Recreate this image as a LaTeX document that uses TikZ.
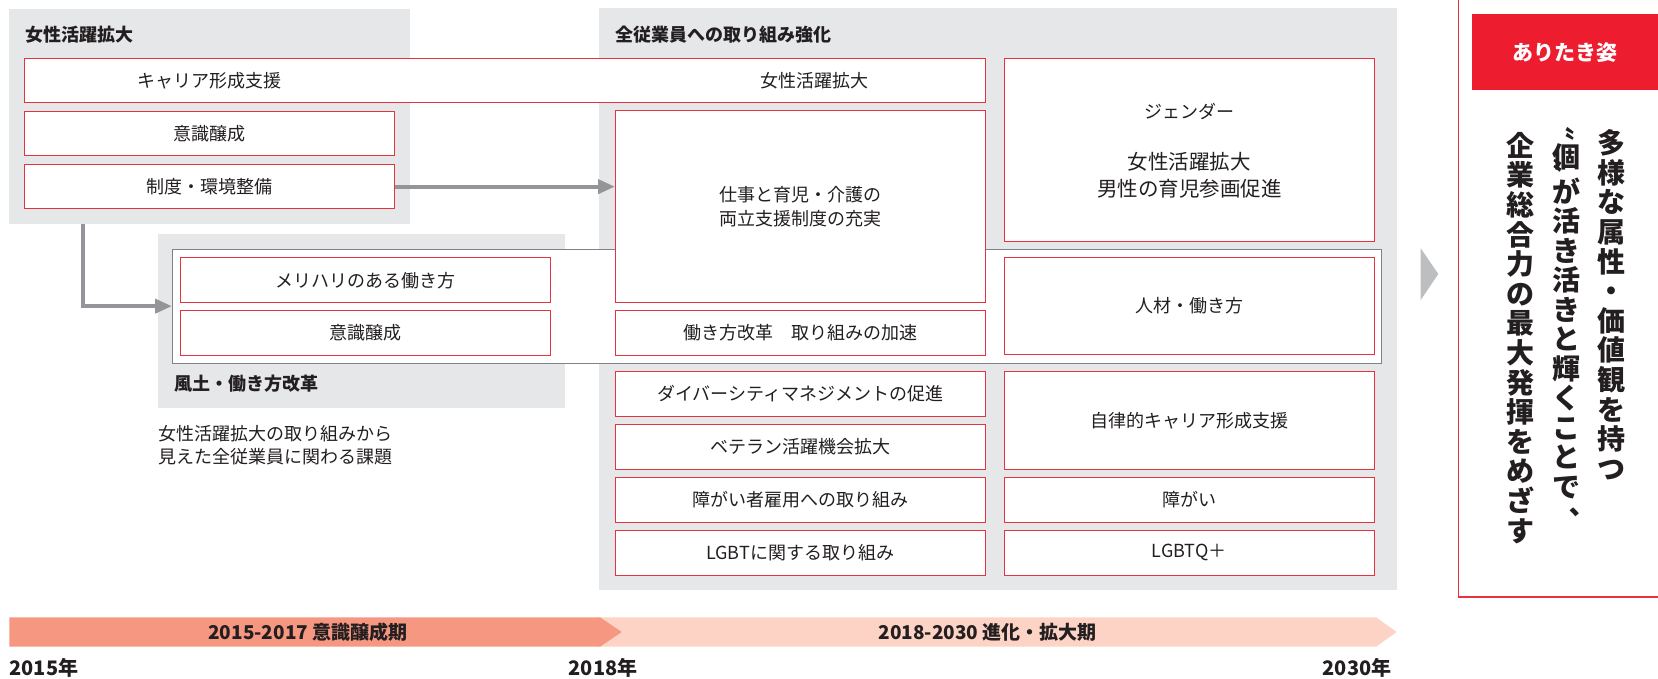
\documentclass[tikz,border=0pt]{standalone}
\usepackage{fontspec}
\setmainfont{Noto Sans CJK JP}
\newfontfamily\vertjp[RawFeature=+vert]{Noto Sans CJK JP}
\usetikzlibrary{arrows.meta}
\definecolor{txt}{RGB}{35,31,32}
\definecolor{boxred}{RGB}{232,50,64}
\definecolor{panelgray}{RGB}{230,231,232}
\definecolor{bordergray}{RGB}{128,130,133}
\definecolor{arrowgray}{RGB}{147,149,152}
\definecolor{trigray}{RGB}{188,190,192}
\definecolor{hdrred}{RGB}{237,28,46}
\definecolor{tlone}{RGB}{246,151,129}
\definecolor{tltwo}{RGB}{252,211,197}
\newcommand\fsz[2]{\fontsize{#1}{#2}\selectfont}
\begin{document}
\begin{tikzpicture}[x=1pt,y=-1pt,
  panel/.style={fill=panelgray, draw=none, inner sep=0, outer sep=0},
  rbox/.style={draw=boxred, fill=white, line width=1pt, inner sep=0, outer sep=0},
  wbox/.style={draw=bordergray, fill=white, line width=1pt, inner sep=0, outer sep=0},
  sz/.style 2 args={minimum width=#1pt, minimum height=#2pt},
  btext/.style={text=txt, font=\fsz{18}{24}, inner sep=0, align=center},
  bigtext/.style={text=txt, font=\fsz{20.5}{26.6}, inner sep=0, align=center},
  title/.style={text=txt, font=\bfseries\fsz{18}{22}, inner sep=0, anchor=west},
  tltext/.style={text=txt, font=\bfseries\fsz{19}{22}, inner sep=0},
  yeartext/.style={text=txt, font=\bfseries\fsz{20}{24}, inner sep=0},
  vchar/.style={text=txt, font=\bfseries\fsz{28}{28}, inner sep=0, text height=24pt, text depth=3.5pt},
  vvert/.style={vchar, font=\vertjp\bfseries\fsz{28}{28}},
  qmark/.style={text=txt, font=\bfseries\fsz{28}{28}, inner sep=0, text height=14pt, text depth=-6pt},
  conn/.style={draw=arrowgray, line width=4pt, -{Triangle[length=17pt,width=14pt]}},
]
\useasboundingbox (0,0) rectangle (1658,679);
% panels
\node[panel, sz={401}{215.3}] (panelA) at (209.5,116.65) {};
\node[panel, sz={407.4}{173.4}] (panelB) at (361.7,321) {};
\node[panel, sz={797.4}{581.7}] (panelC) at (998,299.15) {};
\node[title] (titleA) at (25.7,35) {女性活躍拡大};
\node[title] (titleB) at (174,383.3) {風土・働き方改革};
\node[title] (titleC) at (615,34.3) {全従業員への取り組み強化};
% wide grey-bordered box
\node[wbox, sz={1209.7}{113.7}] (wide) at (776.85,306.15) {};
% long box
\node[rbox, sz={960.8}{44.4}] (longbox) at (504.9,80.5) {};
\node[btext] (tCareer) at (209.6,80.5) {キャリア形成支援};
\node[btext] (tWomen) at (814,80.5) {女性活躍拡大};
% panel A boxes
\node[rbox, sz={370.1}{44.3}] (a1) at (209.55,133.85) {};
\node[btext] at (a1) {意識醸成};
\node[rbox, sz={370.1}{44.7}] (a2) at (209.55,186.65) {};
\node[btext] at (a2) {制度・環境整備};
% panel B boxes
\node[rbox, sz={370.4}{45}] (b1) at (365.2,280.2) {};
\node[btext] at (b1) {メリハリのある働き方};
\node[rbox, sz={370.4}{45}] (b2) at (365.2,333.2) {};
\node[btext] at (b2) {意識醸成};
\node[btext, anchor=west, align=left, font=\fsz{18}{23}] (note) at (158,445.5) {女性活躍拡大の取り組みから\\見えた全従業員に関わる課題};
% panel C left column
\node[rbox, sz={370.3}{191.7}] (shigoto) at (800.15,206.85) {};
\node[btext] at (800.15,207) {仕事と育児・介護の\\両立支援制度の充実};
\node[rbox, sz={370.3}{44.6}] (hatarakikata) at (800.15,333) {};
\node[btext] at (hatarakikata) {働き方改革　取り組みの加速};
\node[rbox, sz={370.3}{44.3}] (diversity) at (800.15,393.85) {};
\node[btext] at (diversity) {ダイバーシティマネジメントの促進};
\node[rbox, sz={370.3}{45}] (veteran) at (800.15,446.8) {};
\node[btext] at (veteran) {ベテラン活躍機会拡大};
\node[rbox, sz={370.3}{45}] (shogai) at (800.15,499.8) {};
\node[btext] at (shogai) {障がい者雇用への取り組み};
\node[rbox, sz={370.3}{44.7}] (lgbt) at (800.15,552.65) {};
\node[btext] at (lgbt) {LGBTに関する取り組み};
% panel C right column
\node[rbox, sz={370.5}{183}] (gender) at (1189.25,149.8) {};
\node[btext] (tGender) at (1189.25,111) {ジェンダー};
\node[bigtext] (tGender2) at (1189.25,175) {女性活躍拡大\\男性の育児参画促進};
\node[rbox, sz={370.5}{97.4}] (jinzai) at (1189.25,306) {};
\node[btext] at (jinzai) {人材・働き方};
\node[rbox, sz={370.5}{97.6}] (jiritsu) at (1189.25,420.5) {};
\node[btext] at (jiritsu) {自律的キャリア形成支援};
\node[rbox, sz={370.5}{45}] (shogai2) at (1189.25,499.8) {};
\node[btext] at (shogai2) {障がい};
\node[rbox, sz={370.5}{44.7}] (lgbtq) at (1189.25,552.65) {};
\node[btext] at (lgbtq) {LGBTQ＋};
% connectors
\draw[conn] (a2.east) -- (a2.east -| shigoto.west);
\coordinate (a2start) at ([xshift=73.7pt]panelA.south west);
\draw[conn] (a2start) |- (wide.west);
% triangle
\fill[trigray] (1420.7,248.3) -- (1438.3,274) -- (1420.7,300) -- cycle;
% goal panel
\draw[boxred, line width=1.3pt] (1458.3,-5) rectangle (1670,597);
\node[fill=hdrred, inner sep=0, sz={186.3}{75.8}, text=white, font=\bfseries\fsz{21}{24}] (hdr) at (1564.85,52.1) {ありたき姿};
\foreach \ch [count=\i] in {多,様,な,属,性,・,価,値,観,を,持,つ}
  \node[vchar] (colA-\i) at (1611.7,{143.5+29.6*(\i-1)}) {\ch};
\node[qmark] (colB-q1) at (1561,145) {〝};
\node[vchar] (colB-ko) at (1566.7,157) {個};
\node[qmark] (colB-q2) at (1566,163) {〟};
\foreach \ch [count=\i] in {が,活,き,活,き,と,輝,く,こ,と,で}
  \node[vchar] (colB-\i) at (1566.7,{192+29.5*(\i-1)}) {\ch};
\node[vvert] (colB-comma) at (1566.7,521.5) {、};
\foreach \ch [count=\i] in {企,業,総,合,力,の,最,大,発,揮,を,め,ざ,す}
  \node[vchar] (colC-\i) at (1520,{146+29.6*(\i-1)}) {\ch};
% timeline
\fill[tltwo] (598,617.3) -- (1376,617.3) -- (1396.7,632) -- (1376,646.7) -- (598,646.7) -- cycle;
\fill[tlone] (9.3,617.3) -- (600,617.3) -- (621.7,632) -- (600,646.7) -- (9.3,646.7) -- cycle;
\node[tltext] (tl1) at (308,632) {2015-2017 意識醸成期};
\node[tltext] (tl2) at (987.7,632) {2018-2030 進化・拡大期};
\node[yeartext, anchor=west] (y2015) at (9.3,667.5) {2015年};
\node[yeartext] (y2018) at (603,667.5) {2018年};
\node[yeartext] (y2030) at (1357,667.5) {2030年};
\end{tikzpicture}
\end{document}
